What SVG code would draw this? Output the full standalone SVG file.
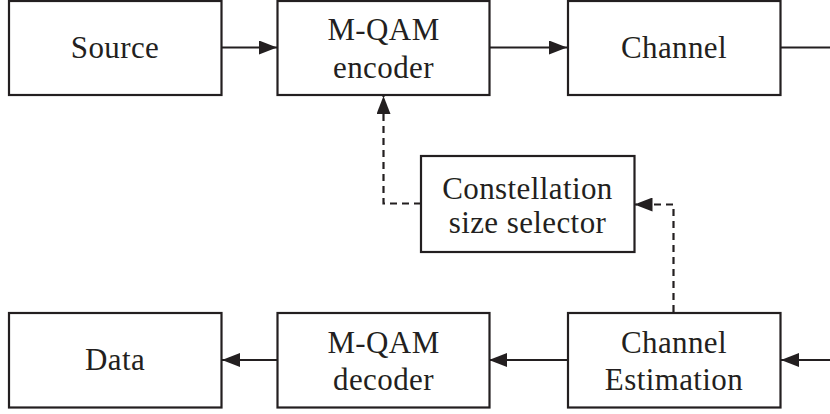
<svg xmlns="http://www.w3.org/2000/svg" width="830" height="414" viewBox="0 0 830 414">
  <style>
    .box { fill: #ffffff; stroke: #231f20; stroke-width: 2.2; }
    .lbl { font-family: "Liberation Serif", "Times New Roman", serif; font-size: 31px; fill: #231f20; text-anchor: middle; letter-spacing: 0.4px; }
    .link { fill: none; stroke: #231f20; stroke-width: 2.2; }
    .dash { stroke-dasharray: 7 5; }
  </style>
  <defs>
    <marker id="head" viewBox="0 0 18 14" refX="18" refY="7" markerWidth="18" markerHeight="14" markerUnits="userSpaceOnUse" orient="auto">
      <path d="M0,0 L18,7 L0,14 Z" fill="#231f20"/>
    </marker>
  </defs>
  <rect width="830" height="414" fill="#ffffff"/>

  <g id="connectors">
    <line class="link" x1="222" y1="47.5" x2="277" y2="47.5" marker-end="url(#head)"/>
    <line class="link" x1="489" y1="47.5" x2="567" y2="47.5" marker-end="url(#head)"/>
    <line class="link" x1="781" y1="47.5" x2="830" y2="47.5"/>
    <line class="link" x1="830" y1="360" x2="781" y2="360" marker-end="url(#head)"/>
    <line class="link" x1="567" y1="360" x2="489" y2="360" marker-end="url(#head)"/>
    <line class="link" x1="277" y1="360" x2="222" y2="360" marker-end="url(#head)"/>
    <polyline class="link dash" points="421,203.5 383.5,203.5 383.5,96" marker-end="url(#head)"/>
    <polyline class="link dash" points="673.5,312 673.5,204.5 634.5,204.5" marker-end="url(#head)"/>
  </g>

  <g id="source">
    <rect class="box" x="9" y="1" width="212.5" height="94"/>
    <text class="lbl" x="115" y="58">Source</text>
  </g>
  <g id="encoder">
    <rect class="box" x="277.5" y="1" width="212" height="94"/>
    <text class="lbl" x="383.5" y="40">M-QAM</text>
    <text class="lbl" x="383.5" y="78">encoder</text>
  </g>
  <g id="channel">
    <rect class="box" x="568" y="1" width="212.5" height="94"/>
    <text class="lbl" x="674" y="58">Channel</text>
  </g>
  <g id="selector">
    <rect class="box" x="421" y="156" width="213.5" height="96"/>
    <text class="lbl" x="527.5" y="199">Constellation</text>
    <text class="lbl" x="527.5" y="233">size selector</text>
  </g>
  <g id="data">
    <rect class="box" x="9" y="313" width="212.5" height="94.5"/>
    <text class="lbl" x="115" y="370">Data</text>
  </g>
  <g id="decoder">
    <rect class="box" x="277.5" y="313" width="212" height="94.5"/>
    <text class="lbl" x="383.5" y="353">M-QAM</text>
    <text class="lbl" x="383.5" y="390">decoder</text>
  </g>
  <g id="estimation">
    <rect class="box" x="568" y="313" width="212.5" height="94.5"/>
    <text class="lbl" x="674" y="353">Channel</text>
    <text class="lbl" x="674" y="390">Estimation</text>
  </g>
</svg>
